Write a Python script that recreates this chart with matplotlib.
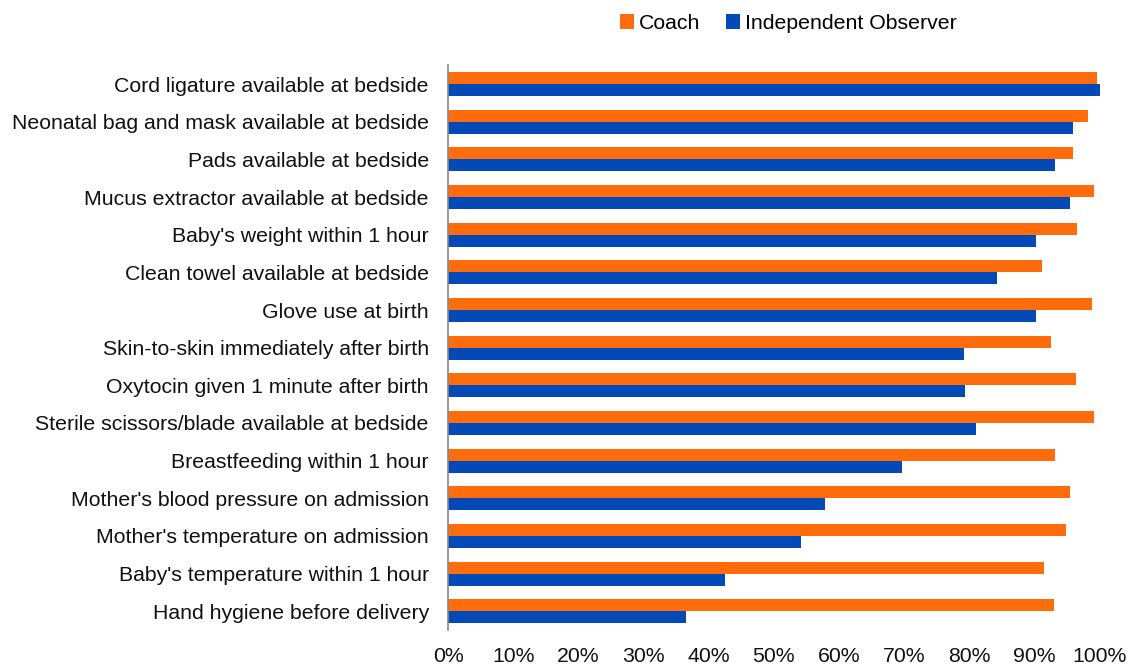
import numpy as np
import matplotlib
matplotlib.use("Agg")
import matplotlib.pyplot as plt
import matplotlib.ticker as ticker

plt.rcParams["font.family"] = ["Liberation Sans", "DejaVu Sans"]

categories = [
    "Cord ligature available at bedside",
    "Neonatal bag and mask available at bedside",
    "Pads available at bedside",
    "Mucus extractor available at bedside",
    "Baby's weight within 1 hour",
    "Clean towel available at bedside",
    "Glove use at birth",
    "Skin-to-skin immediately after birth",
    "Oxytocin given 1 minute after birth",
    "Sterile scissors/blade available at bedside",
    "Breastfeeding within 1 hour",
    "Mother's blood pressure on admission",
    "Mother's temperature on admission",
    "Baby's temperature within 1 hour",
    "Hand hygiene before delivery",
]
coach = [99.6, 98.2, 95.9, 99.1, 96.6, 91.2, 98.9, 92.5, 96.4, 99.1, 93.2, 95.4, 94.9, 91.5, 93.0]
observer = [100.0, 95.9, 93.1, 95.5, 90.2, 84.2, 90.2, 79.2, 79.4, 81.0, 69.7, 57.8, 54.2, 42.5, 36.5]

COACH_COLOR = "#FF6C0C"
OBS_COLOR = "#034AB8"
FS = 15.3

fig = plt.figure(figsize=(11.29, 6.66), dpi=100)
ax = fig.add_axes([0.397, 0.054, 0.577, 0.848])

y = np.arange(len(categories))
h = 0.32
ax.barh(y - h / 2, coach, height=h, color=COACH_COLOR, label="Coach")
ax.barh(y + h / 2, observer, height=h, color=OBS_COLOR, label="Independent Observer")

ax.set_ylim(len(categories) - 0.5, -0.5)
ax.set_xlim(0, 100)
ax.set_yticks(y)
ax.set_yticklabels(categories, fontsize=FS, color="#111111")
ax.set_xticks(np.arange(0, 101, 10))
ax.xaxis.set_major_formatter(ticker.FuncFormatter(lambda v, _: f"{int(v)}%"))
ax.tick_params(axis="x", length=0, pad=12, labelsize=FS, labelcolor="#111111")
ax.tick_params(axis="y", length=0, pad=14)

for s in ["top", "right", "bottom"]:
    ax.spines[s].set_visible(False)
ax.spines["left"].set_color("#888888")
ax.spines["left"].set_linewidth(1.2)

fig.legend(*ax.get_legend_handles_labels(), loc="center", bbox_to_anchor=(0.698, 0.965),
           ncol=2, frameon=False, fontsize=FS, handlelength=0.7, handleheight=0.7,
           handletextpad=0.2, columnspacing=1.2, borderaxespad=0)

plt.savefig("out.png", dpi=100)
plt.close()
